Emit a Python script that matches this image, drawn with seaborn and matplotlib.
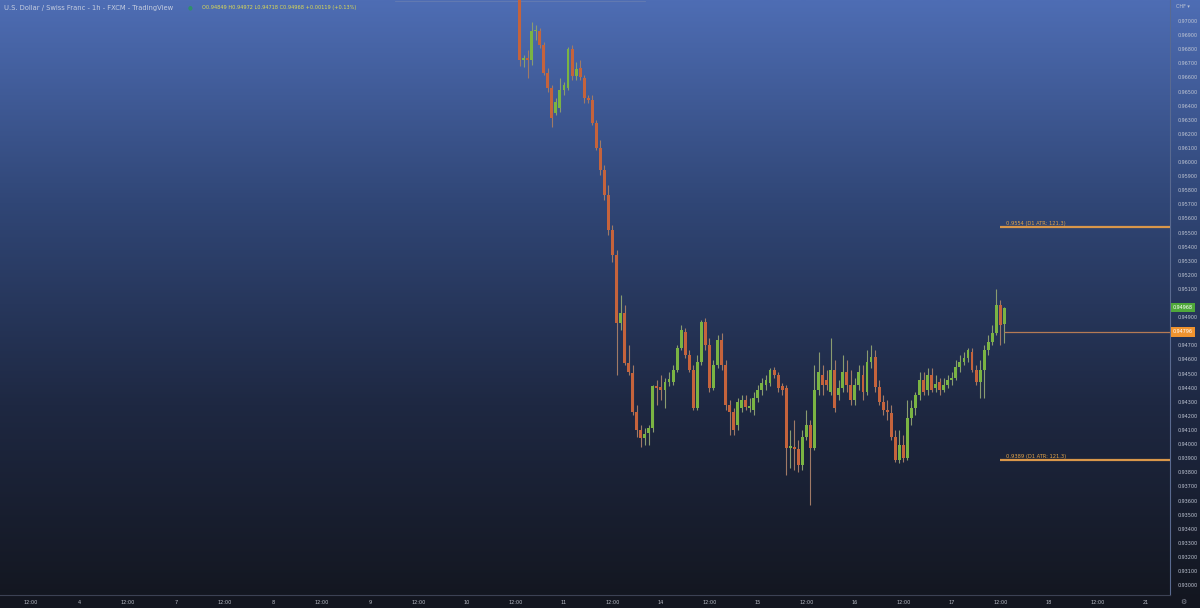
import numpy as np
import pandas as pd
import seaborn as sns
import matplotlib.pyplot as plt
from matplotlib.colors import LinearSegmentedColormap

# hourly candles, bar index 0 = 10th 00:00, first visible bar = 10th 13:00
first_bar = 13
opens = [.9760, .96724, .96738, .96724, .96929, .96929, .96830, .96631, .96525, .96348,
         .96383, .96511, .96525, .96802, .96610, .96667, .96596, .96454, .96440, .96277,
         .96100, .95943, .95766, .95518, .95341, .94859, .94930, .94575, .94504, .94227,
         .94099, .94043, .94079, .94114, .94412, .94405, .94383, .94440, .94440, .94525,
         .94682, .94795, .94632, .94525, .94256, .94582, .94866, .94703, .94398, .94561,
         .94737, .94561, .94277, .94227, .94135, .94256, .94312, .94256, .94241, .94327,
         .94383, .94419, .94433, .94525, .94490, .94412, .94398, .93973, .93980, .93965,
         .93852, .94050, .94135, .93973, .94383, .94490, .94454, .94369, .94525, .94348,
         .94398, .94511, .94419, .94312, .94419, .94490, .94369, .94582, .94618, .94405,
         .94298, .94241, .94220, .94050, .93886, .93994, .93902, .94185, .94256, .94348,
         .94454, .94383, .94490, .94398, .94440, .94383, .94419, .94454, .94469, .94547,
         .94582, .94611, .94653, .94525, .94440, .94525, .94666, .94724, .94788, .94987,
         .94849]
highs = [.9766, .96759, .96794, .96993, .96972, .96950, .96851, .96667, .96546, .96454,
         .96596, .96568, .96816, .96830, .96709, .96724, .96617, .96475, .96475, .96298,
         .96156, .95979, .95837, .95554, .95376, .95057, .94987, .94703, .94561, .94277,
         .94135, .94114, .94135, .94419, .94454, .94490, .94469, .94511, .94561, .94703,
         .94845, .94823, .94666, .94561, .94632, .94879, .94894, .94753, .94596, .94774,
         .94788, .94596, .94312, .94256, .94327, .94348, .94348, .94327, .94369, .94419,
         .94469, .94490, .94540, .94547, .94511, .94433, .94419, .94099, .94170, .94028,
         .94099, .94241, .94170, .94561, .94653, .94561, .94525, .94753, .94596, .94454,
         .94632, .94596, .94525, .94469, .94561, .94561, .94666, .94703, .94666, .94454,
         .94348, .94312, .94277, .94099, .94099, .94064, .94312, .94312, .94369, .94511,
         .94511, .94540, .94540, .94490, .94469, .94469, .94490, .94511, .94596, .94632,
         .94653, .94682, .94682, .94561, .94596, .94703, .94774, .94845, .95100, .95021,
         .94972]
lows = [.96681, .96674, .96596, .96688, .96865, .96809, .96617, .96497, .96249, .96334,
        .96355, .96475, .96511, .96582, .96582, .96582, .96419, .96419, .96263, .96085,
        .95908, .95730, .95483, .95291, .94490, .94808, .94561, .94490, .94206, .94050,
        .93980, .93994, .93994, .94086, .94277, .94312, .94256, .94412, .94419, .94511,
        .94666, .94611, .94511, .94241, .94241, .94561, .94666, .94369, .94383, .94540,
        .94525, .94241, .94064, .94064, .94099, .94227, .94241, .94227, .94206, .94298,
        .94348, .94383, .94412, .94469, .94369, .94348, .93781, .93831, .93816, .93802,
        .93816, .94028, .93569, .93957, .94348, .94348, .94383, .94348, .94227, .94312,
        .94369, .94369, .94277, .94277, .94383, .94312, .94348, .94540, .94369, .94277,
        .94206, .94170, .94028, .93873, .93866, .93873, .93886, .94135, .94206, .94312,
        .94348, .94348, .94369, .94369, .94348, .94369, .94398, .94419, .94454, .94511,
        .94561, .94582, .94511, .94419, .94327, .94327, .94632, .94703, .94774, .94703,
        .94718]
closes = [.96724, .96738, .96724, .96929, .96936, .96830, .96631, .96525, .96312, .96426,
          .96511, .96546, .96802, .96610, .96660, .96603, .96454, .96440, .96277, .96100,
          .95943, .95766, .95518, .95341, .94859, .94930, .94575, .94511, .94227, .94099,
          .94043, .94072, .94114, .94412, .94398, .94383, .94440, .94462, .94525, .94682,
          .94808, .94632, .94525, .94256, .94582, .94866, .94703, .94398, .94561, .94737,
          .94561, .94277, .94227, .94099, .94298, .94312, .94263, .94270, .94327, .94383,
          .94433, .94454, .94525, .94490, .94398, .94383, .93973, .93987, .93965, .93852,
          .94050, .94135, .93973, .94383, .94511, .94419, .94419, .94525, .94256, .94398,
          .94511, .94419, .94312, .94419, .94511, .94369, .94582, .94618, .94405, .94298,
          .94241, .94227, .94050, .93886, .93994, .93902, .94185, .94256, .94348, .94454,
          .94369, .94490, .94383, .94426, .94383, .94419, .94454, .94469, .94547, .94582,
          .94611, .94666, .94525, .94440, .94525, .94666, .94724, .94788, .94987, .94845,
          .94968]

# time axis (bar units)
day_labels = ['3', '4', '7', '8', '9', '10', '11', '14', '15', '16', '17', '18', '21']
day_starts = [-120, -96, -72, -48, -24, 0, 24, 48, 72, 96, 120, 144, 168]

# levels
atr_high = 0.9554
atr_low = 0.9389
marker_level = 0.94796
last_close = 0.94968
header = 'U.S. Dollar / Swiss Franc - 1h - FXCM - TradingView'
ohlc_text = 'O0.94849 H0.94972 L0.94718 C0.94968 +0.00119 (+0.13%)'

sns.set_theme(style='dark')
plt.rcParams['font.family'] = ['DejaVu Sans']

W, H = 1200, 608
fig = plt.figure(figsize=(12, 6.08), dpi=100)

# background gradient over the whole figure
bg = fig.add_axes([0, 0, 1, 1], zorder=-10)
cmap = LinearSegmentedColormap.from_list('tv', ['#4e6db4', '#304676', '#1e2842', '#13161f'])
bg.imshow(np.linspace(0, 1, 256).reshape(-1, 1), aspect='auto', cmap=cmap,
          extent=[0, 1, 0, 1], origin='upper')
bg.plot([395 / W, 645 / W], [1 - 0.5 / H, 1 - 0.5 / H], color='#7083b0', lw=0.8, alpha=0.6)
bg.set_xlim(0, 1)
bg.set_ylim(0, 1)
bg.set_axis_off()
# bottom strip
fig.patches.append(plt.Rectangle((0, 0), 1, 13 / H, transform=fig.transFigure,
                                 color='#131620', zorder=-5))

ax = fig.add_axes([0, 13 / H, 1170 / W, 595 / H])
ax.set_facecolor('none')

df = pd.DataFrame({'open': opens, 'high': highs, 'low': lows, 'close': closes})
df['bar'] = np.arange(len(df)) + first_bar
up = df['close'] >= df['open']
body_col = np.where(up, '#7ab443', '#c5633c')
wick_col = np.where(up, '#8a9c70', '#a07a66')

ax.vlines(df['bar'], df['low'], df['high'], colors=wick_col, lw=0.8, zorder=3)
bottoms = df[['open', 'close']].min(axis=1)
heights = (df['close'] - df['open']).abs().clip(lower=0.00004)
ax.bar(df['bar'], heights, bottom=bottoms, width=0.72, color=body_col, lw=0, zorder=4)

# ATR levels and price line
last_bar = df['bar'].iloc[-1]
for lvl in (atr_high, atr_low):
    ax.hlines(lvl, last_bar - 1, 174, colors='#d9974a', lw=1.6, zorder=5)
    ax.text(last_bar + 0.5, lvl + 0.00006, f'{lvl:.4f} (D1 ATR: 121.3)', color='#e2a348',
            fontsize=3.7, va='bottom', ha='left', zorder=6)
ax.hlines(marker_level, last_bar, 174, colors='#b47a55', lw=0.9, zorder=5)

ax.set_xlim(-115.6, 174)
ax.set_ylim(0.92930, 0.97149)

xt, xl = [], []
for d, s in zip(day_labels, day_starts):
    xt += [s, s + 12]
    xl += [d, '12:00']
keep = [(t, l) for t, l in zip(xt, xl) if -115 < t < 172]
ax.set_xticks([t for t, _ in keep])
ax.set_xticklabels([l for _, l in keep])
yt = np.round(np.arange(0.930, 0.97001, 0.001), 3)
ax.set_yticks(yt)
# labels hidden behind the price boxes are left blank
ax.set_yticklabels(['' if v in (0.948, 0.950) else f'{v:.5f}' for v in yt])
ax.yaxis.tick_right()
ax.tick_params(axis='x', length=0, pad=3.5, labelsize=3.6, labelcolor='#b8bcc6')
ax.tick_params(axis='y', length=0, pad=5.5, labelsize=3.5, labelcolor='#c0c6d4')
ax.grid(False)
for side in ('top', 'left'):
    ax.spines[side].set_visible(False)
ax.spines['right'].set_color('#5a6a90')
ax.spines['right'].set_linewidth(0.8)
ax.spines['bottom'].set_color('#3c4254')
ax.spines['bottom'].set_linewidth(0.8)

# price labels on the scale
ax.annotate(f'{last_close:.5f}', xy=(1.0, last_close), xycoords=('axes fraction', 'data'),
            xytext=(2, 0), textcoords='offset points', fontsize=3.5, color='white',
            va='center', ha='left', annotation_clip=False, zorder=10,
            bbox=dict(boxstyle='square,pad=0.45', fc='#4fa83a', ec='none'))
ax.annotate(f'{marker_level:.5f}', xy=(1.0, marker_level), xycoords=('axes fraction', 'data'),
            xytext=(2, 0), textcoords='offset points', fontsize=3.5, color='white',
            va='center', ha='left', annotation_clip=False, zorder=10,
            bbox=dict(boxstyle='square,pad=0.45', fc='#f0932e', ec='none'))

# header
fig.text(4 / W, 1 - 8 / H, header, fontsize=4.9, color='#c6cee0', va='center')
fig.text(188 / W, 1 - 8 / H, '●', fontsize=4, color='#2f8f6a', va='center')
fig.text(202 / W, 1 - 8 / H, ohlc_text, fontsize=3.65, color='#dedc52', va='center')
fig.text(1176 / W, 1 - 7 / H, 'CHF ▾', fontsize=3.5, color='#c0c6d4', va='center')
fig.text(1183 / W, 6 / H, '⚙', fontsize=5, color='#8a8f9c', va='center', ha='center')

fig.savefig('out.png', dpi=100)
